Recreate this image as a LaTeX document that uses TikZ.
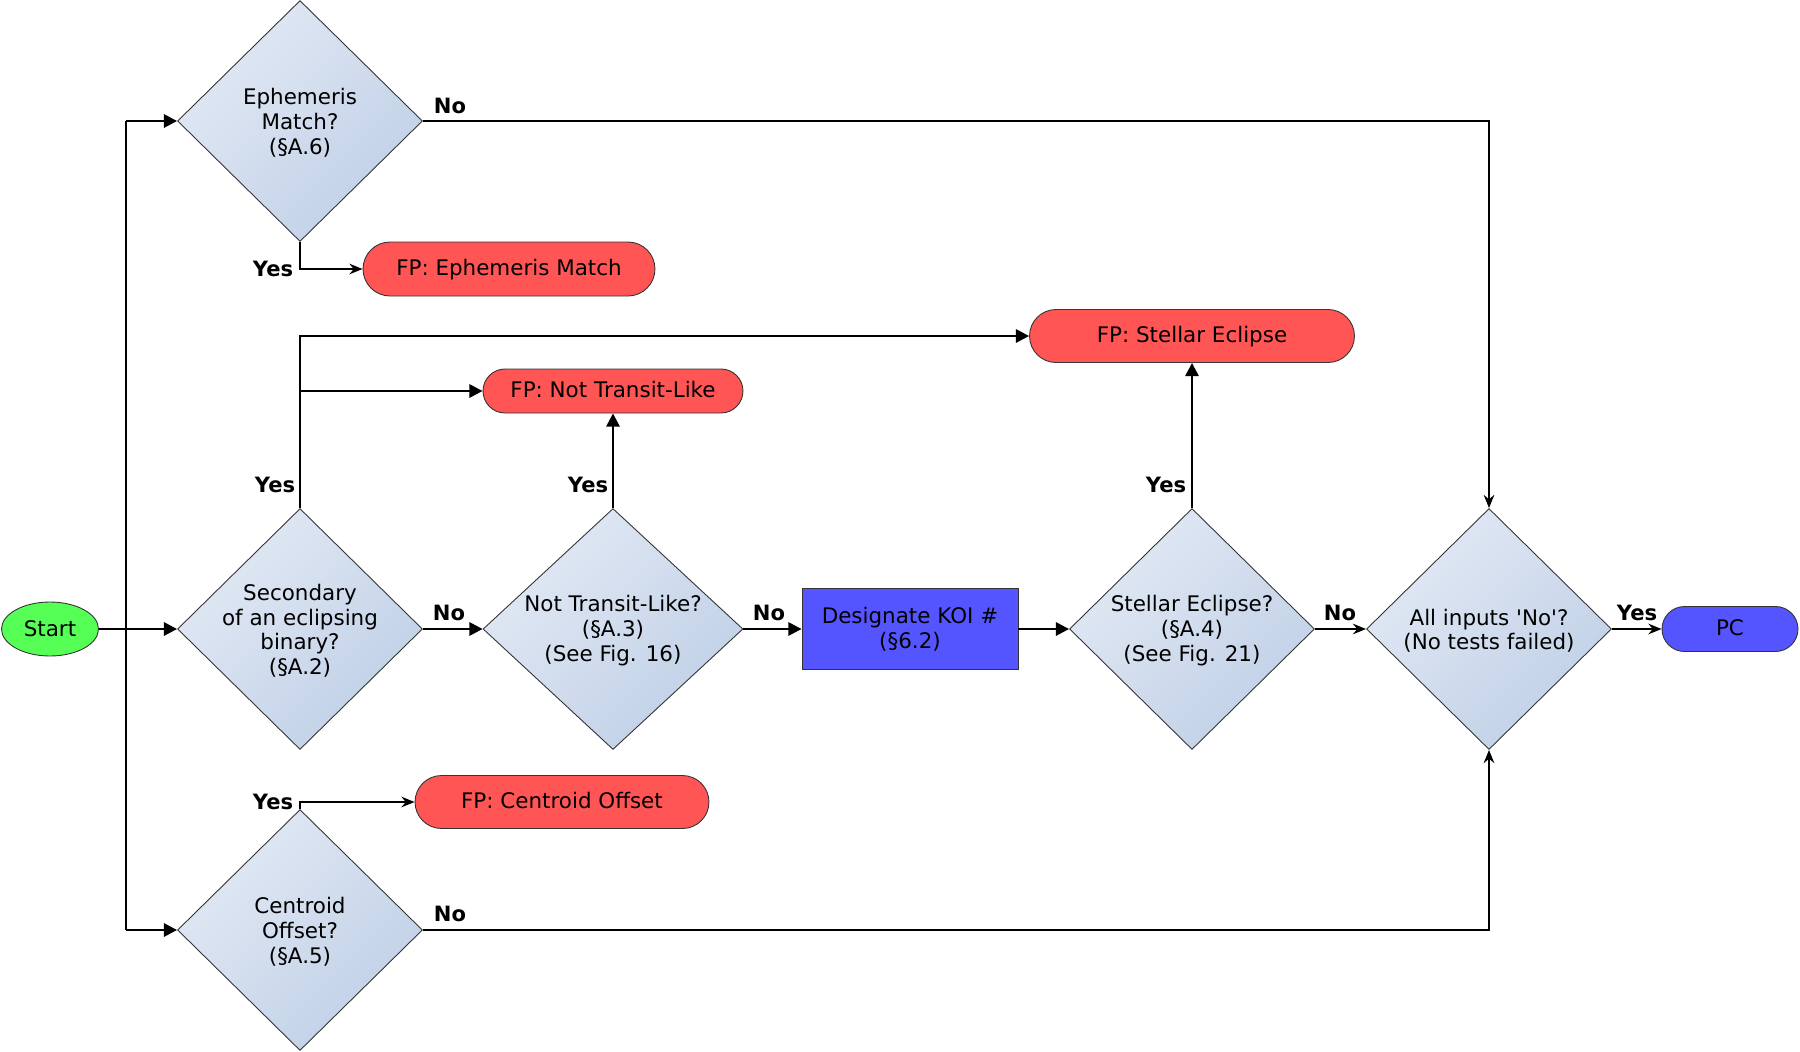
\documentclass[tikz,border=0pt]{standalone}
\usepackage{fontspec}
\setmainfont{DejaVu Sans}
\newfontfamily\plainq{DejaVu Sans}
\usetikzlibrary{shapes.geometric,shapes.misc,arrows.meta}
\definecolor{fpred}{HTML}{FF5555}
\definecolor{koiblue}{HTML}{5555FF}
\definecolor{startgreen}{HTML}{55FF55}
\definecolor{dlight}{HTML}{E2E9F4}
\definecolor{ddark}{HTML}{C0D0E7}
\definecolor{nborder}{HTML}{333333}
\tikzset{
  decision/.style={diamond, draw=nborder, line width=0.5pt, top color=dlight, bottom color=ddark, shading angle=45,
     minimum width=4.9cm, minimum height=4.82cm, inner sep=0pt},
  dtext/.style={align=center, inner sep=0pt, yshift=-0.035cm},
  fpbox/.style={rounded rectangle, draw=nborder, line width=0.5pt, fill=fpred, inner sep=0pt,
     text height=1.04em, text depth=0.28em},
  koibox/.style={rectangle, draw=nborder, line width=0.5pt, fill=koiblue, inner sep=0pt, align=center,
     minimum width=4.32cm, minimum height=1.62cm},
  pcbox/.style={rounded rectangle, draw=nborder, line width=0.5pt, fill=koiblue, inner sep=0pt,
     minimum width=2.72cm, minimum height=0.9cm, text height=1.04em, text depth=0.28em},
  startbox/.style={ellipse, draw=nborder, line width=0.5pt, fill=startgreen, inner sep=0pt,
     minimum width=1.94cm, minimum height=1.08cm},
  conn/.style={draw=black, line width=1.4pt},
  bigarr/.style={conn, -{Triangle[length=7.5pt,width=7.5pt]}},
  smallarr/.style={conn, -{Stealth[length=7.5pt,width=6pt,inset=2.5pt]}},
  lab/.style={font=\fontsize{12}{14}\selectfont\bfseries, inner sep=0pt}
}
\begin{document}
\begin{tikzpicture}[x=0.02cm,y=-0.02cm,font=\fontsize{12.2}{14.1}\selectfont]
\useasboundingbox (0,0) rectangle (1800,1052);

% nodes
\node[startbox] (start) at (50,629) {Start};
\node[decision] (ephem) at (300,121) {};
\node[dtext] (ephemT) at (ephem.center) {Ephemeris\\Match?\\(§A.6)};
\node[decision] (second) at (300,629) {};
\node[dtext] (secondT) at (second.center) {Secondary\\of an eclipsing\\binary?\\(§A.2)};
\node[decision] (centroid) at (300,930) {};
\node[dtext] (centroidT) at (centroid.center) {Centroid\\Offset?\\(§A.5)};
\node[decision, minimum width=5.2cm] (nott) at (613,629) {};
\node[dtext] (nottT) at (nott.center) {Not Transit-Like?\\(§A.3)\\(See Fig. 16)};
\node[koibox] (koi) at (910,629) {Designate KOI \#\\(§6.2)};
\node[decision] (stellar) at (1192,629) {};
\node[dtext] (stellarT) at (stellar.center) {Stellar Eclipse?\\(§A.4)\\(See Fig. 21)};
\node[decision] (all) at (1489,629) {};
\node[dtext] (allT) at (all.center) {All inputs {\plainq '}No{\plainq '}?\\(No tests failed)};
\node[pcbox] (pc) at (1730,629) {PC};
\node[fpbox, minimum width=5.84cm, minimum height=1.08cm] (fpeph) at (509,269) {FP: Ephemeris Match};
\node[fpbox, minimum width=6.5cm, minimum height=1.06cm] (fpstel) at (1192,336) {FP: Stellar Eclipse};
\node[fpbox, minimum width=5.2cm, minimum height=0.88cm] (fpnot) at (613,391) {FP: Not Transit-Like};
\node[fpbox, minimum width=5.88cm, minimum height=1.06cm] (fpcen) at (562,802) {FP: Centroid Offset};

% trunk
\coordinate (tT) at (126,121);
\coordinate (tB) at (126,930);
\draw[conn] (tT) -- (tB);
\draw[bigarr] (start) -- (second);
\draw[bigarr] (tT) -- (ephem.west);
\draw[bigarr] (tB) -- (centroid.west);

% ephemeris
\draw[smallarr] (ephem.south) |- (fpeph.west);
\draw[smallarr] (ephem.east) -| (all.north);
\node[lab] at (273,269) {Yes};
\node[lab] at (450,106) {No};

% secondary
\coordinate (br) at (second.north |- fpnot.west);
\draw[bigarr] (second.north) |- (fpstel.west);
\draw[bigarr] (br) -- (fpnot.west);
\draw[bigarr] (second.east) -- (nott.west);
\node[lab] at (275,485) {Yes};
\node[lab] at (449,613) {No};

% not transit-like
\draw[bigarr] (nott.north) -- (fpnot.south);
\draw[bigarr] (nott.east) -- (koi.west);
\node[lab] at (588,485) {Yes};
\node[lab] at (769,613) {No};

% koi
\draw[bigarr] (koi.east) -- (stellar.west);

% stellar
\draw[bigarr] (stellar.north) -- (fpstel.south);
\draw[smallarr] (stellar.east) -- (all.west);
\node[lab] at (1166,485) {Yes};
\node[lab] at (1340,613) {No};

% all inputs
\draw[smallarr] (all.east) -- (pc.west);
\node[lab] at (1637,613) {Yes};

% centroid
\draw[smallarr] (centroid.north) |- (fpcen.west);
\draw[smallarr] (centroid.east) -| (all.south);
\node[lab] at (273,802) {Yes};
\node[lab] at (450,914) {No};
\end{tikzpicture}
\end{document}
